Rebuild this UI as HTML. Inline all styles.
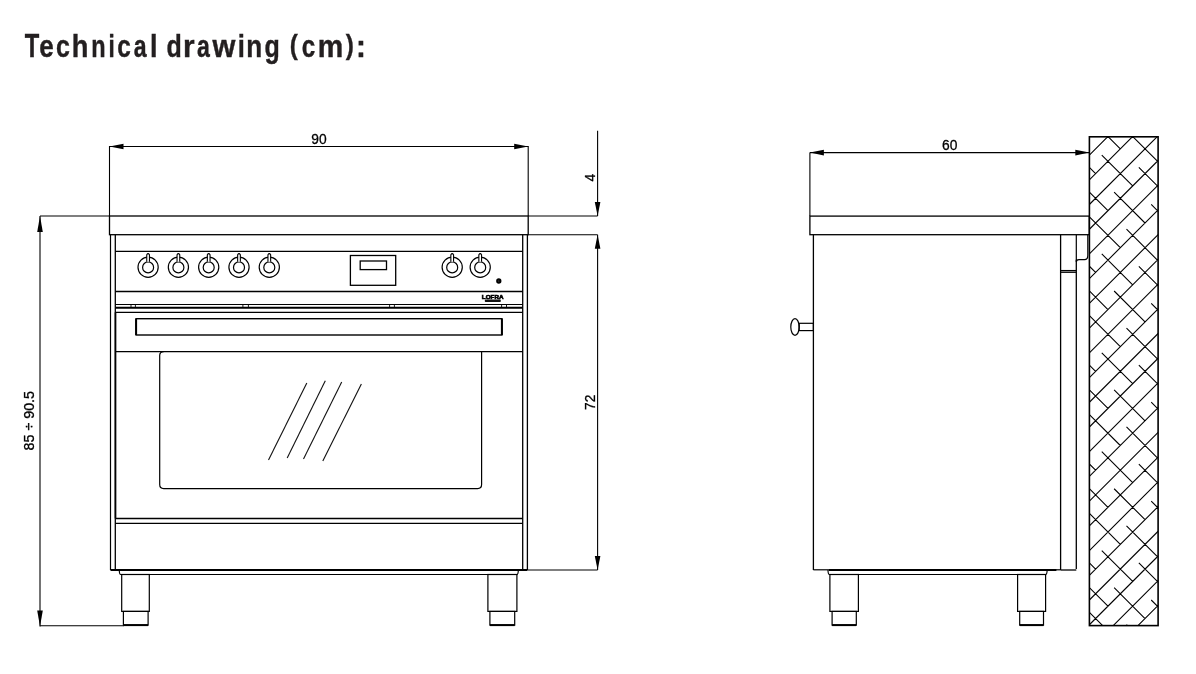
<!DOCTYPE html>
<html><head><meta charset="utf-8"><style>
html,body{margin:0;padding:0;background:#fff;}
body{width:1196px;height:674px;position:relative;overflow:hidden;}
svg{position:absolute;left:0;top:0;will-change:transform;}
</style></head><body>
<svg width="1196" height="674" viewBox="0 0 1196 674">
<line x1="109.50" y1="146.50" x2="528.20" y2="146.50" stroke="#000" stroke-width="1.1"/>
<polygon points="109.50,146.50 123.50,143.70 123.50,149.30" fill="#000"/>
<polygon points="528.20,146.50 514.20,149.30 514.20,143.70" fill="#000"/>
<line x1="109.50" y1="146.00" x2="109.50" y2="216.00" stroke="#000" stroke-width="1.1"/>
<line x1="528.20" y1="146.00" x2="528.20" y2="216.00" stroke="#000" stroke-width="1.1"/>
<text transform="translate(318.90,144.00) scale(0.915,1)" text-anchor="middle" font-family="Liberation Sans" font-size="15.1" fill="#000" stroke="#000" stroke-width="0.3">90</text>
<rect x="109.50" y="216.00" width="418.70" height="18.70" fill="none" stroke="#000" stroke-width="1.3"/>
<line x1="528.20" y1="216.00" x2="597.60" y2="216.00" stroke="#000" stroke-width="1.1"/>
<line x1="528.20" y1="234.70" x2="597.60" y2="234.70" stroke="#000" stroke-width="1.1"/>
<line x1="527.40" y1="570.00" x2="597.60" y2="570.00" stroke="#000" stroke-width="1.1"/>
<line x1="597.60" y1="130.70" x2="597.60" y2="216.00" stroke="#000" stroke-width="1.1"/>
<polygon points="597.60,216.00 594.80,202.00 600.40,202.00" fill="#000"/>
<text transform="translate(595.20,177.70) rotate(-90) scale(0.915,1)" text-anchor="middle" font-family="Liberation Sans" font-size="15.1" fill="#000" stroke="#000" stroke-width="0.3">4</text>
<line x1="597.60" y1="234.70" x2="597.60" y2="570.00" stroke="#000" stroke-width="1.1"/>
<polygon points="597.60,234.70 600.40,248.70 594.80,248.70" fill="#000"/>
<polygon points="597.60,570.00 594.80,556.00 600.40,556.00" fill="#000"/>
<text transform="translate(595.30,402.20) rotate(-90) scale(0.915,1)" text-anchor="middle" font-family="Liberation Sans" font-size="15.1" fill="#000" stroke="#000" stroke-width="0.3">72</text>
<line x1="40.00" y1="216.00" x2="109.50" y2="216.00" stroke="#000" stroke-width="1.1"/>
<line x1="40.00" y1="216.00" x2="40.00" y2="626.50" stroke="#000" stroke-width="1.1"/>
<polygon points="40.00,216.00 42.80,232.00 37.20,232.00" fill="#000"/>
<polygon points="40.00,626.50 37.20,610.50 42.80,610.50" fill="#000"/>
<line x1="40.00" y1="625.70" x2="124.00" y2="625.70" stroke="#000" stroke-width="1.1"/>
<text transform="translate(34.00,420.70) rotate(-90) scale(0.945,1)" text-anchor="middle" font-family="Liberation Sans" font-size="15.1" fill="#000" stroke="#000" stroke-width="0.3">85 ÷ 90.5</text>
<line x1="110.50" y1="234.70" x2="110.50" y2="570.00" stroke="#000" stroke-width="1.2"/>
<line x1="527.40" y1="234.70" x2="527.40" y2="570.00" stroke="#000" stroke-width="1.3"/>
<line x1="115.30" y1="234.70" x2="115.30" y2="570.00" stroke="#000" stroke-width="1.3"/>
<line x1="522.70" y1="234.70" x2="522.70" y2="570.00" stroke="#000" stroke-width="1.3"/>
<line x1="110.50" y1="570.00" x2="527.40" y2="570.00" stroke="#000" stroke-width="2.2"/>
<line x1="115.30" y1="251.30" x2="522.70" y2="251.30" stroke="#000" stroke-width="1.3"/>
<line x1="115.30" y1="291.50" x2="522.70" y2="291.50" stroke="#000" stroke-width="1.3"/>
<line x1="115.30" y1="304.50" x2="522.70" y2="304.50" stroke="#000" stroke-width="1.1"/>
<line x1="115.30" y1="307.70" x2="522.70" y2="307.70" stroke="#000" stroke-width="2.0"/>
<line x1="115.30" y1="312.30" x2="522.70" y2="312.30" stroke="#000" stroke-width="1.3"/>
<line x1="131.00" y1="304.50" x2="131.00" y2="307.70" stroke="#000" stroke-width="0.9"/>
<line x1="135.40" y1="304.50" x2="135.40" y2="307.70" stroke="#000" stroke-width="0.9"/>
<line x1="242.90" y1="304.50" x2="242.90" y2="307.70" stroke="#000" stroke-width="0.9"/>
<line x1="248.40" y1="304.50" x2="248.40" y2="307.70" stroke="#000" stroke-width="0.9"/>
<line x1="389.60" y1="304.50" x2="389.60" y2="307.70" stroke="#000" stroke-width="0.9"/>
<line x1="394.40" y1="304.50" x2="394.40" y2="307.70" stroke="#000" stroke-width="0.9"/>
<line x1="501.60" y1="304.50" x2="501.60" y2="307.70" stroke="#000" stroke-width="0.9"/>
<line x1="506.50" y1="304.50" x2="506.50" y2="307.70" stroke="#000" stroke-width="0.9"/>
<circle cx="148.10" cy="267.20" r="10.10" fill="none" stroke="#000" stroke-width="1.2"/>
<circle cx="148.10" cy="267.40" r="5.50" fill="none" stroke="#000" stroke-width="1.2"/>
<path d="M146.75,261.80 L146.75,254.70 Q148.10,252.60 149.45,254.70 L149.45,261.80" fill="#fff" stroke="#000" stroke-width="1.1"/>
<circle cx="178.40" cy="267.20" r="10.10" fill="none" stroke="#000" stroke-width="1.2"/>
<circle cx="178.40" cy="267.40" r="5.50" fill="none" stroke="#000" stroke-width="1.2"/>
<path d="M177.05,261.80 L177.05,254.70 Q178.40,252.60 179.75,254.70 L179.75,261.80" fill="#fff" stroke="#000" stroke-width="1.1"/>
<circle cx="208.70" cy="267.20" r="10.10" fill="none" stroke="#000" stroke-width="1.2"/>
<circle cx="208.70" cy="267.40" r="5.50" fill="none" stroke="#000" stroke-width="1.2"/>
<path d="M207.35,261.80 L207.35,254.70 Q208.70,252.60 210.05,254.70 L210.05,261.80" fill="#fff" stroke="#000" stroke-width="1.1"/>
<circle cx="239.00" cy="267.20" r="10.10" fill="none" stroke="#000" stroke-width="1.2"/>
<circle cx="239.00" cy="267.40" r="5.50" fill="none" stroke="#000" stroke-width="1.2"/>
<path d="M237.65,261.80 L237.65,254.70 Q239.00,252.60 240.35,254.70 L240.35,261.80" fill="#fff" stroke="#000" stroke-width="1.1"/>
<circle cx="269.30" cy="267.20" r="10.10" fill="none" stroke="#000" stroke-width="1.2"/>
<circle cx="269.30" cy="267.40" r="5.50" fill="none" stroke="#000" stroke-width="1.2"/>
<path d="M267.95,261.80 L267.95,254.70 Q269.30,252.60 270.65,254.70 L270.65,261.80" fill="#fff" stroke="#000" stroke-width="1.1"/>
<circle cx="452.20" cy="267.20" r="10.10" fill="none" stroke="#000" stroke-width="1.2"/>
<circle cx="452.20" cy="267.40" r="5.50" fill="none" stroke="#000" stroke-width="1.2"/>
<path d="M450.85,261.80 L450.85,254.70 Q452.20,252.60 453.55,254.70 L453.55,261.80" fill="#fff" stroke="#000" stroke-width="1.1"/>
<circle cx="480.20" cy="267.20" r="10.10" fill="none" stroke="#000" stroke-width="1.2"/>
<circle cx="480.20" cy="267.40" r="5.50" fill="none" stroke="#000" stroke-width="1.2"/>
<path d="M478.85,261.80 L478.85,254.70 Q480.20,252.60 481.55,254.70 L481.55,261.80" fill="#fff" stroke="#000" stroke-width="1.1"/>
<rect x="350.40" y="255.50" width="45.30" height="29.80" fill="none" stroke="#000" stroke-width="1.3"/>
<rect x="360.20" y="261.00" width="26.30" height="8.60" fill="none" stroke="#000" stroke-width="1.3"/>
<circle cx="498.80" cy="281.00" r="1.90" fill="#000" stroke="#000" stroke-width="1.5"/>
<circle cx="498.80" cy="281.00" r="0.50" fill="#777" stroke="#000" stroke-width="0"/>
<text transform="translate(492.7,298.6) scale(1.0,0.82)" text-anchor="middle" font-family="Liberation Sans" font-weight="bold" font-size="6.3" fill="#000" stroke="#000" stroke-width="0.7">LOFRA</text>
<rect x="484.8" y="299.6" width="16.0" height="2.5" rx="0.8" fill="#111"/>
<line x1="115.50" y1="312.30" x2="115.50" y2="518.50" stroke="#000" stroke-width="1.7"/>
<rect x="136.10" y="318.70" width="365.80" height="16.30" fill="none" stroke="#000" stroke-width="1.4"/>
<line x1="136.10" y1="318.70" x2="136.10" y2="335.00" stroke="#000" stroke-width="2.0"/>
<line x1="501.90" y1="318.70" x2="501.90" y2="335.00" stroke="#000" stroke-width="2.0"/>
<line x1="115.30" y1="351.60" x2="522.70" y2="351.60" stroke="#000" stroke-width="1.2"/>
<path d="M481.6,351.6 L481.6,484.6 Q481.6,488.6 477.6,488.6 L163.7,488.6 Q159.7,488.6 159.7,484.6 L159.7,355.6 Q159.7,351.6 163.7,351.6" fill="none" stroke="#000" stroke-width="1.2"/>
<line x1="306.80" y1="382.90" x2="268.50" y2="460.10" stroke="#111" stroke-width="1.1"/>
<line x1="325.30" y1="380.70" x2="287.20" y2="458.00" stroke="#111" stroke-width="1.1"/>
<line x1="341.70" y1="381.90" x2="303.50" y2="459.10" stroke="#111" stroke-width="1.1"/>
<line x1="361.40" y1="384.10" x2="322.80" y2="461.00" stroke="#111" stroke-width="1.1"/>
<line x1="115.30" y1="518.50" x2="522.70" y2="518.50" stroke="#000" stroke-width="1.3"/>
<line x1="115.30" y1="523.40" x2="522.70" y2="523.40" stroke="#000" stroke-width="1.3"/>
<path d="M119.30,570 Q119.30,574.5 120.80,574.5 L516.80,574.5 Q518.30,574.5 518.30,570" fill="none" stroke="#000" stroke-width="1.2"/>
<rect x="121.70" y="574.50" width="27.60" height="36.90" fill="none" stroke="#000" stroke-width="1.2"/>
<rect x="123.40" y="611.40" width="24.70" height="13.70" fill="none" stroke="#000" stroke-width="1.2"/>
<line x1="123.40" y1="625.10" x2="148.10" y2="625.10" stroke="#000" stroke-width="2.0"/>
<rect x="487.90" y="574.50" width="29.00" height="36.90" fill="none" stroke="#000" stroke-width="1.2"/>
<rect x="489.90" y="611.40" width="24.80" height="13.70" fill="none" stroke="#000" stroke-width="1.2"/>
<line x1="489.90" y1="625.10" x2="514.70" y2="625.10" stroke="#000" stroke-width="2.0"/>
<line x1="809.90" y1="152.60" x2="1089.30" y2="152.60" stroke="#000" stroke-width="1.1"/>
<polygon points="809.90,152.60 823.90,149.80 823.90,155.40" fill="#000"/>
<polygon points="1089.30,152.60 1075.30,155.40 1075.30,149.80" fill="#000"/>
<line x1="809.90" y1="152.60" x2="809.90" y2="216.00" stroke="#000" stroke-width="1.1"/>
<text transform="translate(949.80,150.30) scale(0.915,1)" text-anchor="middle" font-family="Liberation Sans" font-size="15.1" fill="#000" stroke="#000" stroke-width="0.3">60</text>
<rect x="809.90" y="216.10" width="279.40" height="18.60" fill="none" stroke="#000" stroke-width="1.3"/>
<line x1="813.40" y1="234.70" x2="813.40" y2="570.00" stroke="#000" stroke-width="1.3"/>
<line x1="813.40" y1="569.80" x2="830.00" y2="569.80" stroke="#000" stroke-width="1.2"/>
<line x1="829.00" y1="570.00" x2="1056.40" y2="570.00" stroke="#000" stroke-width="2.2"/>
<line x1="1056.00" y1="569.80" x2="1060.60" y2="569.80" stroke="#000" stroke-width="1.2"/>
<line x1="1060.60" y1="234.70" x2="1060.60" y2="570.00" stroke="#000" stroke-width="1.3"/>
<line x1="1076.30" y1="259.70" x2="1076.30" y2="569.00" stroke="#000" stroke-width="1.3"/>
<line x1="1060.60" y1="570.00" x2="1076.30" y2="570.00" stroke="#000" stroke-width="1.3"/>
<path d="M1076.3,234.7 L1076.3,262 Q1076.3,259.7 1079,259.7 L1084.5,259.7 Q1087.8,259.7 1087.8,255.6 L1087.8,234.7" fill="none" stroke="#000" stroke-width="1.2"/>
<line x1="1060.60" y1="270.50" x2="1076.30" y2="270.50" stroke="#000" stroke-width="1.1"/>
<line x1="1060.60" y1="272.20" x2="1076.30" y2="272.20" stroke="#000" stroke-width="1.4"/>
<ellipse cx="795" cy="327" rx="4.2" ry="8.3" fill="#fff" stroke="#000" stroke-width="1.2"/>
<rect x="799.10" y="323.30" width="14.30" height="7.30" fill="none" stroke="#000" stroke-width="1.2"/>
<path d="M828.00,570 Q828.00,574.5 829.50,574.5 L1045.60,574.5 Q1047.10,574.5 1047.10,570" fill="none" stroke="#000" stroke-width="1.2"/>
<rect x="829.90" y="574.50" width="28.50" height="36.90" fill="none" stroke="#000" stroke-width="1.2"/>
<rect x="832.10" y="611.40" width="24.20" height="13.70" fill="none" stroke="#000" stroke-width="1.2"/>
<line x1="832.10" y1="625.10" x2="856.30" y2="625.10" stroke="#000" stroke-width="2.0"/>
<rect x="1017.60" y="574.50" width="28.00" height="36.90" fill="none" stroke="#000" stroke-width="1.2"/>
<rect x="1019.70" y="611.40" width="23.80" height="13.70" fill="none" stroke="#000" stroke-width="1.2"/>
<line x1="1019.70" y1="625.10" x2="1043.50" y2="625.10" stroke="#000" stroke-width="2.0"/>
<clipPath id="wc"><rect x="1089.4" y="136.8" width="68.69999999999982" height="488.8"/></clipPath>
<path clip-path="url(#wc)" d="M1084.40,-1249.00L1163.10,-1327.70M1084.40,-1224.28L1163.10,-1302.98M1084.40,-1199.56L1163.10,-1278.26M1084.40,-1174.84L1163.10,-1253.54M1084.40,-1150.12L1163.10,-1228.82M1084.40,-1125.40L1163.10,-1204.10M1084.40,-1100.68L1163.10,-1179.38M1084.40,-1075.96L1163.10,-1154.66M1084.40,-1051.24L1163.10,-1129.94M1084.40,-1026.52L1163.10,-1105.22M1084.40,-1001.80L1163.10,-1080.50M1084.40,-977.08L1163.10,-1055.78M1084.40,-952.36L1163.10,-1031.06M1084.40,-927.64L1163.10,-1006.34M1084.40,-902.92L1163.10,-981.62M1084.40,-878.20L1163.10,-956.90M1084.40,-853.48L1163.10,-932.18M1084.40,-828.76L1163.10,-907.46M1084.40,-804.04L1163.10,-882.74M1084.40,-779.32L1163.10,-858.02M1084.40,-754.60L1163.10,-833.30M1084.40,-729.88L1163.10,-808.58M1084.40,-705.16L1163.10,-783.86M1084.40,-680.44L1163.10,-759.14M1084.40,-655.72L1163.10,-734.42M1084.40,-631.00L1163.10,-709.70M1084.40,-606.28L1163.10,-684.98M1084.40,-581.56L1163.10,-660.26M1084.40,-556.84L1163.10,-635.54M1084.40,-532.12L1163.10,-610.82M1084.40,-507.40L1163.10,-586.10M1084.40,-482.68L1163.10,-561.38M1084.40,-457.96L1163.10,-536.66M1084.40,-433.24L1163.10,-511.94M1084.40,-408.52L1163.10,-487.22M1084.40,-383.80L1163.10,-462.50M1084.40,-359.08L1163.10,-437.78M1084.40,-334.36L1163.10,-413.06M1084.40,-309.64L1163.10,-388.34M1084.40,-284.92L1163.10,-363.62M1084.40,-260.20L1163.10,-338.90M1084.40,-235.48L1163.10,-314.18M1084.40,-210.76L1163.10,-289.46M1084.40,-186.04L1163.10,-264.74M1084.40,-161.32L1163.10,-240.02M1084.40,-136.60L1163.10,-215.30M1084.40,-111.88L1163.10,-190.58M1084.40,-87.16L1163.10,-165.86M1084.40,-62.44L1163.10,-141.14M1084.40,-37.72L1163.10,-116.42M1084.40,-13.00L1163.10,-91.70M1084.40,11.72L1163.10,-66.98M1084.40,36.44L1163.10,-42.26M1084.40,61.16L1163.10,-17.54M1084.40,85.88L1163.10,7.18M1084.40,110.60L1163.10,31.90M1084.40,135.32L1163.10,56.62M1084.40,160.04L1163.10,81.34M1084.40,184.76L1163.10,106.06M1084.40,209.48L1163.10,130.78M1084.40,234.20L1163.10,155.50M1084.40,258.92L1163.10,180.22M1084.40,283.64L1163.10,204.94M1084.40,308.36L1163.10,229.66M1084.40,333.08L1163.10,254.38M1084.40,357.80L1163.10,279.10M1084.40,382.52L1163.10,303.82M1084.40,407.24L1163.10,328.54M1084.40,431.96L1163.10,353.26M1084.40,456.68L1163.10,377.98M1084.40,481.40L1163.10,402.70M1084.40,506.12L1163.10,427.42M1084.40,530.84L1163.10,452.14M1084.40,555.56L1163.10,476.86M1084.40,580.28L1163.10,501.58M1084.40,605.00L1163.10,526.30M1084.40,629.72L1163.10,551.02M1084.40,654.44L1163.10,575.74M1084.40,679.16L1163.10,600.46M1084.40,703.88L1163.10,625.18M1084.40,728.60L1163.10,649.90M1084.40,753.32L1163.10,674.62M1084.40,778.04L1163.10,699.34M1084.40,802.76L1163.10,724.06M1084.40,827.48L1163.10,748.78M1084.40,852.20L1163.10,773.50M1084.40,876.92L1163.10,798.22M1084.40,901.64L1163.10,822.94M1084.40,926.36L1163.10,847.66M1084.40,951.08L1163.10,872.38M1084.40,975.80L1163.10,897.10M1084.40,1000.52L1163.10,921.82M1084.40,1025.24L1163.10,946.54M1084.40,1049.96L1163.10,971.26M1084.40,1074.68L1163.10,995.98M1084.40,1099.40L1163.10,1020.70M1084.40,1124.12L1163.10,1045.42M1084.40,1148.84L1163.10,1070.14M1084.40,1173.56L1163.10,1094.86M1084.40,1198.28L1163.10,1119.58M1084.40,1223.00L1163.10,1144.30M1084.40,1247.72L1163.10,1169.02M1084.40,1272.44L1163.10,1193.74M1084.40,1297.16L1163.10,1218.46M1084.40,1321.88L1163.10,1243.18M1084.40,1346.60L1163.10,1267.90M1084.40,1371.32L1163.10,1292.62M1084.40,1396.04L1163.10,1317.34M1084.40,1420.76L1163.10,1342.06M1084.40,1445.48L1163.10,1366.78M1084.40,1470.20L1163.10,1391.50M1084.40,1494.92L1163.10,1416.22M1084.40,1519.64L1163.10,1440.94M1084.40,1544.36L1163.10,1465.66M1084.40,1569.08L1163.10,1490.38M1084.40,1593.80L1163.10,1515.10M1084.40,1618.52L1163.10,1539.82M1084.40,1643.24L1163.10,1564.54M1084.40,1667.96L1163.10,1589.26M1084.40,1692.68L1163.10,1613.98M1089.41,612.35L1120.31,643.25M1077.05,575.27L1107.95,606.17M1126.49,624.71L1157.39,655.61M1064.69,538.19L1095.59,569.09M1114.13,587.63L1145.03,618.53M1101.77,550.55L1132.67,581.45M1151.21,599.99L1182.11,630.89M1089.41,513.47L1120.31,544.37M1138.85,562.91L1169.75,593.81M1077.05,476.39L1107.95,507.29M1126.49,525.83L1157.39,556.73M1064.69,439.31L1095.59,470.21M1114.13,488.75L1145.03,519.65M1101.77,451.67L1132.67,482.57M1151.21,501.11L1182.11,532.01M1089.41,414.59L1120.31,445.49M1138.85,464.03L1169.75,494.93M1077.05,377.51L1107.95,408.41M1126.49,426.95L1157.39,457.85M1064.69,340.43L1095.59,371.33M1114.13,389.87L1145.03,420.77M1101.77,352.79L1132.67,383.69M1151.21,402.23L1182.11,433.13M1089.41,315.71L1120.31,346.61M1138.85,365.15L1169.75,396.05M1077.05,278.63L1107.95,309.53M1126.49,328.07L1157.39,358.97M1064.69,241.55L1095.59,272.45M1114.13,290.99L1145.03,321.89M1101.77,253.91L1132.67,284.81M1151.21,303.35L1182.11,334.25M1089.41,216.83L1120.31,247.73M1138.85,266.27L1169.75,297.17M1077.05,179.75L1107.95,210.65M1126.49,229.19L1157.39,260.09M1064.69,142.67L1095.59,173.57M1114.13,192.11L1145.03,223.01M1101.77,155.03L1132.67,185.93M1151.21,204.47L1182.11,235.37M1089.41,117.95L1120.31,148.85M1138.85,167.39L1169.75,198.29M1126.49,130.31L1157.39,161.21M1151.21,105.59L1182.11,136.49" stroke="#000" stroke-width="1.1" fill="none"/>
<rect x="1089.40" y="136.80" width="68.70" height="488.80" fill="none" stroke="#000" stroke-width="1.6"/>
<text transform="translate(24.68,56.68) scale(0.699,0.973)" font-family="Liberation Sans" font-weight="bold" font-size="34" fill="#231f20" stroke="#231f20" stroke-width="0.45">T</text>
<text transform="translate(39.28,56.69) scale(0.766,0.917)" font-family="Liberation Sans" font-weight="bold" font-size="34" fill="#231f20" stroke="#231f20" stroke-width="0.45">e</text>
<text transform="translate(56.01,56.69) scale(0.733,0.917)" font-family="Liberation Sans" font-weight="bold" font-size="34" fill="#231f20" stroke="#231f20" stroke-width="0.45">c</text>
<text transform="translate(71.76,56.69) scale(0.800,0.926)" font-family="Liberation Sans" font-weight="bold" font-size="34" fill="#231f20" stroke="#231f20" stroke-width="0.45">h</text>
<text transform="translate(91.34,56.69) scale(0.690,0.917)" font-family="Liberation Sans" font-weight="bold" font-size="34" fill="#231f20" stroke="#231f20" stroke-width="0.45">n</text>
<text transform="translate(108.46,56.69) scale(0.660,0.926)" font-family="Liberation Sans" font-weight="bold" font-size="34" fill="#231f20" stroke="#231f20" stroke-width="0.45">i</text>
<text transform="translate(117.13,56.69) scale(0.716,0.917)" font-family="Liberation Sans" font-weight="bold" font-size="34" fill="#231f20" stroke="#231f20" stroke-width="0.45">c</text>
<text transform="translate(133.67,56.69) scale(0.679,0.917)" font-family="Liberation Sans" font-weight="bold" font-size="34" fill="#231f20" stroke="#231f20" stroke-width="0.45">a</text>
<text transform="translate(150.08,56.69) scale(0.792,0.926)" font-family="Liberation Sans" font-weight="bold" font-size="34" fill="#231f20" stroke="#231f20" stroke-width="0.45">l</text>
<text transform="translate(166.44,56.69) scale(0.735,0.926)" font-family="Liberation Sans" font-weight="bold" font-size="34" fill="#231f20" stroke="#231f20" stroke-width="0.45">d</text>
<text transform="translate(183.07,56.69) scale(0.877,0.917)" font-family="Liberation Sans" font-weight="bold" font-size="34" fill="#231f20" stroke="#231f20" stroke-width="0.45">r</text>
<text transform="translate(196.97,56.69) scale(0.679,0.917)" font-family="Liberation Sans" font-weight="bold" font-size="34" fill="#231f20" stroke="#231f20" stroke-width="0.45">a</text>
<text transform="translate(212.48,56.69) scale(0.865,0.932)" font-family="Liberation Sans" font-weight="bold" font-size="34" fill="#231f20" stroke="#231f20" stroke-width="0.45">w</text>
<text transform="translate(237.66,56.69) scale(0.752,0.926)" font-family="Liberation Sans" font-weight="bold" font-size="34" fill="#231f20" stroke="#231f20" stroke-width="0.45">i</text>
<text transform="translate(246.19,56.69) scale(0.767,0.917)" font-family="Liberation Sans" font-weight="bold" font-size="34" fill="#231f20" stroke="#231f20" stroke-width="0.45">n</text>
<text transform="translate(264.44,56.69) scale(0.735,0.917)" font-family="Liberation Sans" font-weight="bold" font-size="34" fill="#231f20" stroke="#231f20" stroke-width="0.45">g</text>
<text transform="translate(289.85,53.79) scale(0.714,0.821)" font-family="Liberation Sans" font-weight="bold" font-size="34" fill="#231f20" stroke="#231f20" stroke-width="0.45">(</text>
<text transform="translate(301.84,56.69) scale(0.710,0.917)" font-family="Liberation Sans" font-weight="bold" font-size="34" fill="#231f20" stroke="#231f20" stroke-width="0.45">c</text>
<text transform="translate(317.64,56.69) scale(0.843,0.917)" font-family="Liberation Sans" font-weight="bold" font-size="34" fill="#231f20" stroke="#231f20" stroke-width="0.45">m</text>
<text transform="translate(345.69,53.79) scale(0.714,0.821)" font-family="Liberation Sans" font-weight="bold" font-size="34" fill="#231f20" stroke="#231f20" stroke-width="0.45">)</text>
<text transform="translate(355.91,56.59) scale(0.876,0.924)" font-family="Liberation Sans" font-weight="bold" font-size="34" fill="#231f20" stroke="#231f20" stroke-width="0.45">:</text>
</svg>
</body></html>
